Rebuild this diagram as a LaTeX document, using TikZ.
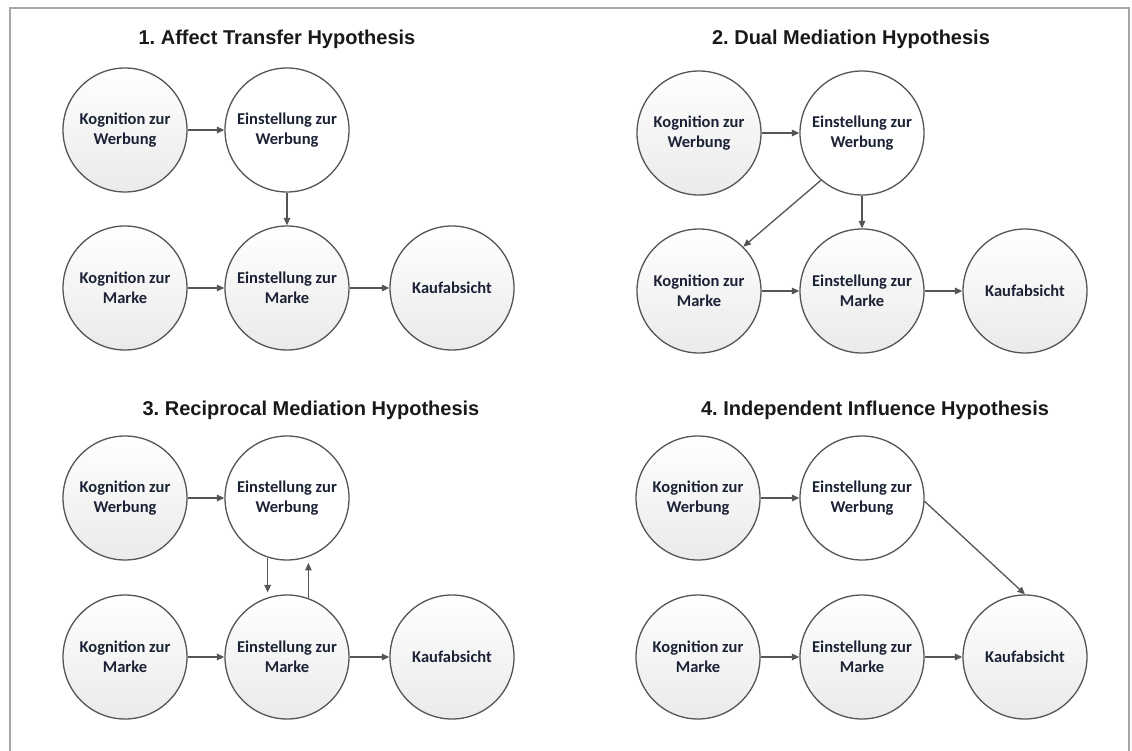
\documentclass[tikz,border=0pt]{standalone}
\usepackage{fontspec}
\setmainfont{Carlito}
\newfontfamily\headfont{Liberation Sans}
\usetikzlibrary{arrows.meta}

\definecolor{edgegray}{HTML}{555555}
\definecolor{framegray}{HTML}{A6A6A6}
\definecolor{labelink}{HTML}{1C2236}
\definecolor{shadelow}{HTML}{EAEAEA}

\frenchspacing
\begin{document}
\begin{tikzpicture}[x=1pt,y=-1pt,
  bubble/.style={circle, draw=edgegray, line width=1.3pt, minimum size=124pt,
    inner sep=0pt, align=center, text=labelink,
    font=\bfseries\fontsize{16.5}{20}\selectfont},
  shaded/.style={bubble, top color=white, bottom color=shadelow},
  plain/.style={bubble, fill=white},
  link/.style={draw=edgegray, line width=1.3pt,
    -{Triangle[length=7.5pt,width=6.5pt]}},
  heading/.style={anchor=base, text=black!90,
    font=\headfont\bfseries\fontsize{20}{24}\selectfont},
]
\useasboundingbox (0,0) rectangle (1132,751);
\fill[white] (0,0) rectangle (1132,751);

% outer frame, open at the bottom
\draw[framegray, line width=2.5pt] (10,751) -- (10,8) -- (1129,8) -- (1129,751);

% ---------- 1. Affect Transfer Hypothesis ----------
\node[heading] (t1) at (277,45) {1. Affect Transfer Hypothesis};
\node[shaded] (kw1) at (125,130) {Kognition zur\\Werbung};
\node[plain]  (ew1) at (287,130) {Einstellung zur\\Werbung};
\node[shaded] (km1) at (125,288) {Kognition zur\\Marke};
\node[shaded] (em1) at (287,288) {Einstellung zur\\Marke};
\node[shaded] (ka1) at (452,288) {Kaufabsicht};
\draw[link] (kw1) -- (ew1);
\draw[link] (ew1) -- (em1);
\draw[link] (km1) -- (em1);
\draw[link] (em1) -- (ka1);

% ---------- 2. Dual Mediation Hypothesis ----------
\node[heading] (t2) at (851,45) {2. Dual Mediation Hypothesis};
\node[shaded] (kw2) at (699,133) {Kognition zur\\Werbung};
\node[plain]  (ew2) at (862,133) {Einstellung zur\\Werbung};
\node[shaded] (km2) at (699,291) {Kognition zur\\Marke};
\node[shaded] (em2) at (862,291) {Einstellung zur\\Marke};
\node[shaded] (ka2) at (1025,291) {Kaufabsicht};
\draw[link] (kw2) -- (ew2);
\draw[link] (ew2) -- (em2);
\draw[link] (ew2.229) -- (km2.45);
\draw[link] (km2) -- (em2);
\draw[link] (em2) -- (ka2);

% ---------- 3. Reciprocal Mediation Hypothesis ----------
\node[heading] (t3) at (311,415) {3. Reciprocal Mediation Hypothesis};
\node[shaded] (kw3) at (125,498) {Kognition zur\\Werbung};
\node[plain]  (ew3) at (287,498) {Einstellung zur\\Werbung};
\node[shaded] (km3) at (125,657) {Kognition zur\\Marke};
\node[shaded] (em3) at (287,657) {Einstellung zur\\Marke};
\node[shaded] (ka3) at (452,657) {Kaufabsicht};
\draw[link] (kw3) -- (ew3);
\draw[link, shorten >=5pt] (ew3.252) -- (em3.108);
\draw[link, shorten >=6pt] (em3.70) -- (ew3.290);
\draw[link] (km3) -- (em3);
\draw[link] (em3) -- (ka3);

% ---------- 4. Independent Influence Hypothesis ----------
\node[heading] (t4) at (875,415) {4. Independent Influence Hypothesis};
\node[shaded] (kw4) at (698,498) {Kognition zur\\Werbung};
\node[plain]  (ew4) at (862,498) {Einstellung zur\\Werbung};
\node[shaded] (km4) at (698,657) {Kognition zur\\Marke};
\node[shaded] (em4) at (862,657) {Einstellung zur\\Marke};
\node[shaded] (ka4) at (1025,657) {Kaufabsicht};
\draw[link] (kw4) -- (ew4);
\draw[link] (ew4.357) -- (ka4.north);
\draw[link] (km4) -- (em4);
\draw[link] (em4) -- (ka4);
\end{tikzpicture}
\end{document}
